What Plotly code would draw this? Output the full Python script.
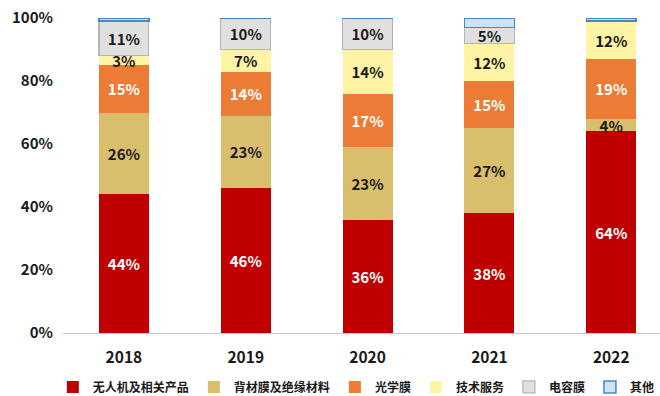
import plotly.graph_objects as go

years = ["2018", "2019", "2020", "2021", "2022"]

# share of revenue by business line (%)
drone = [44, 46, 36, 38, 64]
backsheet = [26, 23, 23, 27, 4]
optical = [15, 14, 17, 15, 19]
tech_service = [3, 7, 14, 12, 12]
capacitor = [11, 10, 10, 5, 0]
other = [1, 1, 1, 3, 1]

series = [
    ("无人机及相关产品", drone, "#C00000", "#C00000", 0, "white", True),
    ("背材膜及绝缘材料", backsheet, "#D9BE6E", "#D9BE6E", 0, "#1a1a1a", True),
    ("光学膜", optical, "#EC7B36", "#EC7B36", 0, "white", True),
    ("技术服务", tech_service, "#FFF4A5", "#FFF4A5", 0, "#1a1a1a", True),
    ("电容膜", capacitor, "#E0E0E0", "#B4B4B4", 1.2, "#1a1a1a", True),
    ("其他", other, "#CFE2F3", "#4A86C5", 1.5, "#1a1a1a", False),
]

font_family = "Noto Sans CJK SC, Microsoft YaHei, sans-serif"

fig = go.Figure()
for name, vals, fill, line, lw, tcolor, show_text in series:
    texts = [f"<b>{v}%</b>" if (show_text and v > 0) else "" for v in vals]
    fig.add_trace(go.Bar(
        name=f"<b>{name}</b>",
        x=years,
        y=vals,
        marker=dict(color=fill, line=dict(color=line, width=lw)),
        text=texts,
        texttemplate="%{text}",
        textposition="inside",
        insidetextanchor="middle",
        constraintext="none",
        textfont=dict(color=tcolor, size=15, family=font_family),
        hoverinfo="skip",
    ))

fig.update_layout(
    barmode="stack",
    bargap=0.59,
    width=660,
    height=396,
    margin=dict(l=63, r=0, t=18, b=63, autoexpand=False),
    plot_bgcolor="white",
    paper_bgcolor="white",
    font=dict(family=font_family, color="#1a1a1a"),
    legend=dict(
        orientation="h",
        x=-0.017, xanchor="left",
        y=-0.125, yanchor="top",
        font=dict(size=12, family=font_family, color="#1a1a1a"),
        itemwidth=30,
        traceorder="normal",
        tracegroupgap=0,
        entrywidth=0,
    ),
    showlegend=True,
)

fig.update_yaxes(
    range=[0, 100],
    tickvals=[0, 20, 40, 60, 80, 100],
    ticktext=[f"<b>{v}%</b>" for v in [0, 20, 40, 60, 80, 100]],
    tickfont=dict(size=15, family=font_family, color="#1a1a1a"),
    showgrid=False,
    zeroline=False,
    showline=False,
    ticks="",
    ticklabelstandoff=9,
)
fig.update_xaxes(
    range=[-0.5, 4.4],
    tickvals=years,
    ticktext=[f"<b>{y}</b>" for y in years],
    tickfont=dict(size=15.5, family=font_family, color="#1a1a1a"),
    showline=True,
    linecolor="#C8C8C8",
    linewidth=1,
    showgrid=False,
    ticks="",
    ticklabelstandoff=10,
)

fig.write_html("out.html")
